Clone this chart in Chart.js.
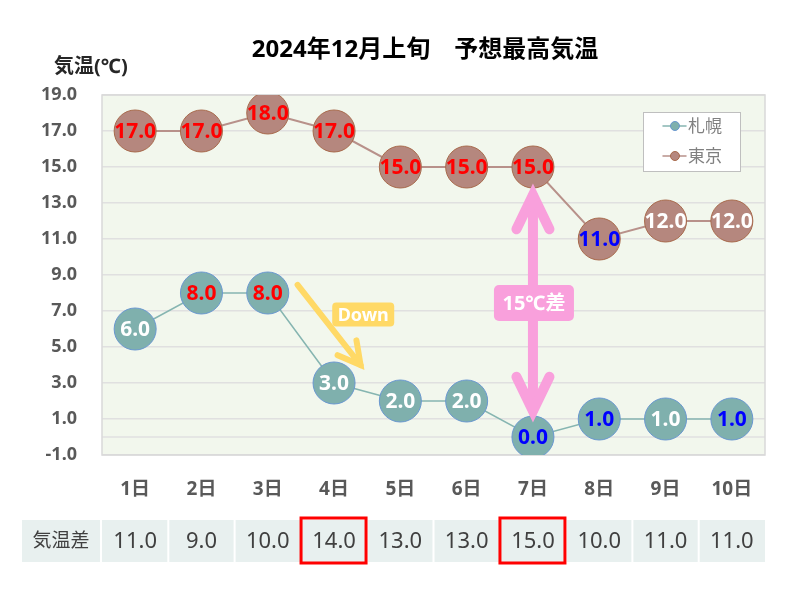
<!DOCTYPE html>
<html>
<head>
<meta charset="utf-8">
<script src="https://cdn.jsdelivr.net/npm/chart.js@4.4.1/dist/chart.umd.min.js"></script>
<style>
html, body { margin: 0; padding: 0; background: #fff; }
</style>
</head>
<body>
<canvas id="chart" width="800" height="600"></canvas>
<script>
var days = ['1日', '2日', '3日', '4日', '5日', '6日', '7日', '8日', '9日', '10日']
var sapporo = [6, 8, 8, 3, 2, 2, 0, 1, 1, 1]
var tokyo = [17, 17, 18, 17, 15, 15, 15, 11, 12, 12]
var tempDiff = [11, 9, 10, 14, 13, 13, 15, 10, 11, 11]
var yMin = -1
var yMax = 19
var yStep = 2

var FONT = "'Noto Sans', 'Noto Sans CJK JP', sans-serif"

// label colours per point
var sapporoLabelColors = ['#fff', 'red', 'red', '#fff', '#fff', '#fff', 'blue', 'blue', '#fff', 'blue']
var tokyoLabelColors = ['red', 'red', 'red', 'red', 'red', 'red', 'red', 'blue', '#fff', '#fff']
var highlightCols = [3, 6]

function roundRect(ctx, x, y, w, h, r) {
    ctx.beginPath()
    ctx.moveTo(x + r, y)
    ctx.arcTo(x + w, y, x + w, y + h, r)
    ctx.arcTo(x + w, y + h, x, y + h, r)
    ctx.arcTo(x, y + h, x, y, r)
    ctx.arcTo(x, y, x + w, y, r)
    ctx.closePath()
}

function arrowHead(ctx, tx, ty, ang, len, spread) {
    ctx.beginPath()
    ctx.moveTo(tx - len * Math.cos(ang - spread), ty - len * Math.sin(ang - spread))
    ctx.lineTo(tx, ty)
    ctx.lineTo(tx - len * Math.cos(ang + spread), ty - len * Math.sin(ang + spread))
    ctx.stroke()
}

var decorPlugin = {
    id: 'decor',
    beforeDraw: function (chart) {
        var ctx = chart.ctx
        var a = chart.chartArea
        ctx.save()
        ctx.fillStyle = '#f2f7ed'
        ctx.fillRect(a.left, a.top, a.right - a.left, a.bottom - a.top)
        ctx.restore()
    },
    beforeDatasetsDraw: function (chart) {
        var ctx = chart.ctx
        var a = chart.chartArea
        var y = chart.scales.y
        ctx.save()
        // horizontal axis line at 0
        ctx.strokeStyle = '#e0e0e0'
        ctx.lineWidth = 1.5
        ctx.beginPath()
        ctx.moveTo(a.left, y.getPixelForValue(0))
        ctx.lineTo(a.right, y.getPixelForValue(0))
        ctx.stroke()
        ctx.strokeStyle = '#d9d9d9'
        ctx.strokeRect(a.left, a.top, a.right - a.left, a.bottom - a.top)
        ctx.restore()
    },
    afterDatasetsDraw: function (chart) {
        var ctx = chart.ctx
        var xs = chart.scales.x
        var ys = chart.scales.y
        ctx.save()

        // data labels
        ctx.font = 'bold 21px ' + FONT
        ctx.textAlign = 'center'
        ctx.textBaseline = 'middle'
        var labelColors = [sapporoLabelColors, tokyoLabelColors]
        chart.data.datasets.forEach(function (ds, di) {
            chart.getDatasetMeta(di).data.forEach(function (pt, i) {
                ctx.fillStyle = labelColors[di][i]
                ctx.fillText(ds.data[i].toFixed(1), pt.x, pt.y + 1)
            })
        })

        // yellow "Down" arrow
        var x1 = xs.getPixelForValue(2.45), y1 = ys.getPixelForValue(8.45)
        var x2 = xs.getPixelForValue(3.4), y2 = ys.getPixelForValue(4.0)
        ctx.strokeStyle = '#ffd966'
        ctx.lineWidth = 6
        ctx.lineCap = 'round'
        ctx.beginPath()
        ctx.moveTo(x1, y1)
        ctx.lineTo(x2, y2)
        ctx.stroke()
        arrowHead(ctx, x2, y2, Math.atan2(y2 - y1, x2 - x1), 25, 0.5)

        var dx = xs.getPixelForValue(3.44), dy = ys.getPixelForValue(6.8)
        ctx.fillStyle = '#ffd966'
        roundRect(ctx, dx - 31, dy - 12, 62, 24, 4)
        ctx.fill()
        ctx.fillStyle = '#fff'
        ctx.font = 'bold 18px ' + FONT
        ctx.fillText('Down', dx, dy + 1)

        // pink double arrow at 7日
        var px = xs.getPixelForValue(6)
        var top = ys.getPixelForValue(tokyo[6]) + 25
        var bot = ys.getPixelForValue(sapporo[6]) - 23
        ctx.strokeStyle = '#f9a0dc'
        ctx.lineWidth = 10
        ctx.lineCap = 'round'
        ctx.beginPath()
        ctx.moveTo(px, top + 4)
        ctx.lineTo(px, bot - 4)
        ctx.stroke()
        arrowHead(ctx, px, top + 3, -Math.PI / 2, 38, 0.45)
        arrowHead(ctx, px, bot - 3, Math.PI / 2, 38, 0.45)
        var my = (top + bot) / 2
        ctx.fillStyle = '#f9a0dc'
        roundRect(ctx, px - 39, my - 18, 80, 36, 5)
        ctx.fill()
        ctx.fillStyle = '#fff'
        ctx.font = 'bold 20px ' + FONT
        ctx.fillText('15℃差', px + 1, my + 1)

        // legend
        var lx = 643, ly = 112
        ctx.fillStyle = '#fff'
        ctx.fillRect(lx, ly, 97, 59)
        ctx.strokeStyle = '#bfbfbf'
        ctx.lineWidth = 1
        ctx.strokeRect(lx + 0.5, ly + 0.5, 97, 59)
        ctx.font = '17px ' + FONT
        ctx.textAlign = 'left'
        chart.data.datasets.forEach(function (ds, di) {
            var cy = ly + 14 + di * 30
            ctx.strokeStyle = ds.borderColor
            ctx.lineWidth = 1.5
            ctx.beginPath()
            ctx.moveTo(lx + 20, cy)
            ctx.lineTo(lx + 43, cy)
            ctx.stroke()
            ctx.beginPath()
            ctx.arc(lx + 32, cy, 4.5, 0, Math.PI * 2)
            ctx.fillStyle = ds.pointBackgroundColor
            ctx.fill()
            ctx.strokeStyle = ds.pointBorderColor
            ctx.lineWidth = 1
            ctx.stroke()
            ctx.fillStyle = '#808080'
            ctx.fillText(ds.label, lx + 45, cy + 1)
        })
        ctx.restore()
    },
    afterDraw: function (chart) {
        var ctx = chart.ctx
        var xs = chart.scales.x
        ctx.save()
        ctx.textBaseline = 'middle'
        ctx.textAlign = 'center'

        // title + axis title
        ctx.fillStyle = '#000'
        ctx.font = 'bold 24px ' + FONT
        ctx.fillText('2024年12月上旬　予想最高気温', 425, 50)
        ctx.fillStyle = '#262626'
        ctx.font = 'bold 20px ' + FONT
        ctx.textAlign = 'left'
        ctx.fillText('気温(℃)', 54, 67)

        // difference table
        var ty = 520, th = 42
        ctx.fillStyle = '#e8f0ef'
        ctx.fillRect(22, ty, 743, th)
        ctx.strokeStyle = '#fff'
        ctx.lineWidth = 2
        ctx.beginPath()
        ctx.moveTo(101, ty)
        ctx.lineTo(101, ty + th)
        for (var i = 1; i < days.length; i++) {
            var ex = (xs.getPixelForValue(i - 1) + xs.getPixelForValue(i)) / 2
            ctx.moveTo(ex, ty)
            ctx.lineTo(ex, ty + th)
        }
        ctx.stroke()
        ctx.fillStyle = '#404040'
        ctx.textAlign = 'center'
        ctx.font = '19px ' + FONT
        ctx.fillText('気温差', 61, ty + th / 2 + 1)
        ctx.font = '22px ' + FONT
        tempDiff.forEach(function (v, i) {
            ctx.fillText(v.toFixed(1), xs.getPixelForValue(i), ty + th / 2 + 1)
        })
        ctx.strokeStyle = '#ff0000'
        ctx.lineWidth = 3
        highlightCols.forEach(function (c) {
            var cx = xs.getPixelForValue(c)
            ctx.strokeRect(cx - 33, ty - 2, 65, th + 3)
        })
        ctx.restore()
    }
}

var ctx = document.getElementById('chart').getContext('2d')
var myChart = new Chart(ctx, {
    type: 'line',
    data: {
        labels: days,
        datasets: [{
            label: '札幌',
            data: sapporo,
            borderColor: '#86b5b1',
            borderWidth: 1.5,
            pointRadius: 21,
            pointBackgroundColor: '#7fb0ad',
            pointBorderColor: '#6a98d0',
            pointBorderWidth: 1
        }, {
            label: '東京',
            data: tokyo,
            borderColor: '#b8918a',
            borderWidth: 2,
            pointRadius: 21,
            pointBackgroundColor: '#b5877e',
            pointBorderColor: '#a86a4c',
            pointBorderWidth: 1
        }]
    },
    options: {
        responsive: false,
        devicePixelRatio: 1,
        animation: false,
        events: [],
        layout: { padding: { top: 95, right: 35, left: 0, bottom: 0 } },
        plugins: {
            legend: { display: false },
            title: { display: false },
            tooltip: { enabled: false }
        },
        scales: {
            x: {
                offset: true,
                grid: { display: false, drawTicks: false },
                border: { display: false },
                ticks: {
                    padding: 23,
                    color: '#595959',
                    font: { family: FONT, size: 19, weight: 'bold' }
                },
                afterFit: function (s) { s.height = 145 }
            },
            y: {
                min: yMin,
                max: yMax,
                grid: { color: '#e0e0e0', lineWidth: 1.5, drawTicks: false },
                border: { display: false },
                ticks: {
                    stepSize: yStep,
                    padding: 25,
                    color: '#595959',
                    font: { family: FONT, size: 18, weight: 'bold' },
                    callback: function (v) { return v.toFixed(1) }
                },
                afterFit: function (s) { s.width = 102 }
            }
        }
    },
    plugins: [decorPlugin]
})
</script>
</body>
</html>
